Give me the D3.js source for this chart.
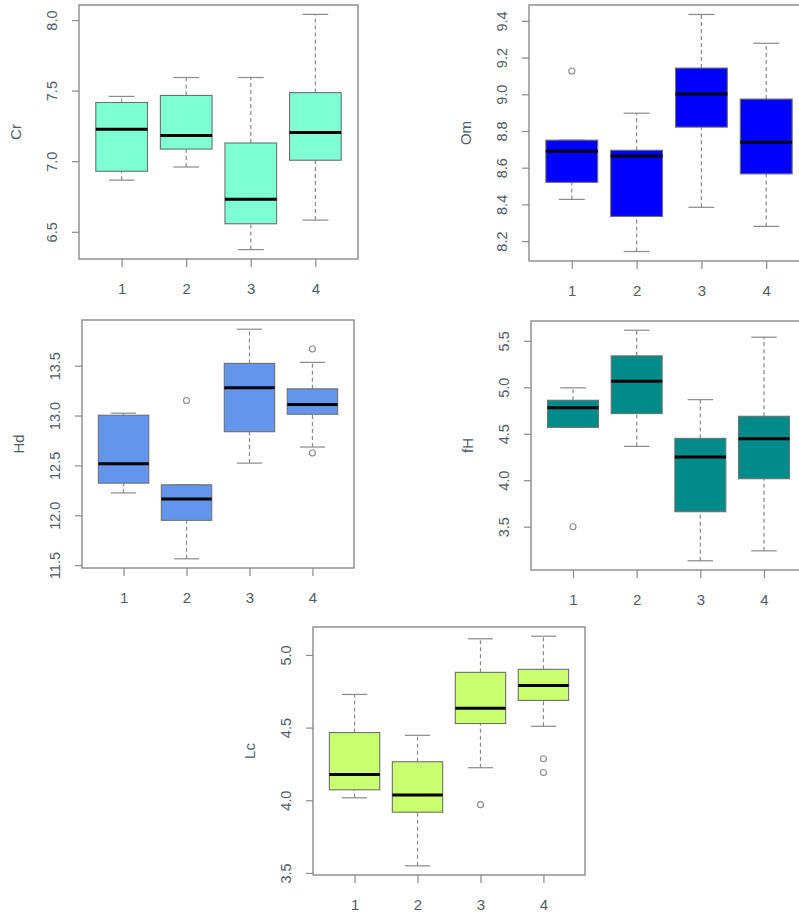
<!DOCTYPE html>
<html>
<head>
<meta charset="utf-8">
<script src="https://cdn.jsdelivr.net/npm/d3@7"></script>
<style>
html,body{margin:0;padding:0;background:#fff;overflow:hidden;}
svg{display:block;}
text{font-family:"Liberation Sans",Arial,sans-serif;}
</style>
</head>
<body>
<svg id="chart" width="799" height="912"></svg>
<script>
// ---------- data ----------
const groups = ["1", "2", "3", "4"];

// each row: [lower whisker, Q1, median, Q3, upper whisker]
const crStats = [[6.866, 6.929, 7.226, 7.416, 7.459],
                 [6.959, 7.086, 7.183, 7.466, 7.593],
                 [6.374, 6.557, 6.731, 7.129, 7.593],
                 [6.583, 7.007, 7.204, 7.486, 8.040]];
const crOutliers = [[], [], [], []];
const crTicks = [6.5, 7.0, 7.5, 8.0];

const omStats = [[8.427, 8.520, 8.690, 8.750, 8.750],
                 [8.143, 8.334, 8.664, 8.695, 8.897],
                 [8.384, 8.821, 9.001, 9.143, 9.435],
                 [8.280, 8.566, 8.739, 8.974, 9.278]];
const omOutliers = [[9.127], [], [], []];
const omTicks = [8.2, 8.4, 8.6, 8.8, 9.0, 9.2, 9.4];

const hdStats = [[12.224, 12.322, 12.516, 13.003, 13.024],
                 [11.563, 11.949, 12.164, 12.305, 12.305],
                 [12.523, 12.838, 13.278, 13.523, 13.866],
                 [12.684, 13.013, 13.110, 13.268, 13.533]];
const hdOutliers = [[], [13.151], [], [13.668, 12.624]];
const hdTicks = [11.5, 12.0, 12.5, 13.0, 13.5];

const fhStats = [[4.569, 4.569, 4.781, 4.860, 4.994],
                 [4.364, 4.717, 5.065, 5.338, 5.614],
                 [3.133, 3.661, 4.250, 4.450, 4.867],
                 [3.240, 4.016, 4.447, 4.688, 5.539]];
const fhOutliers = [[3.499], [], [], []];
const fhTicks = [3.5, 4.0, 4.5, 5.0, 5.5];

const lcStats = [[4.017, 4.072, 4.178, 4.466, 4.728],
                 [3.549, 3.918, 4.037, 4.265, 4.447],
                 [4.224, 4.528, 4.634, 4.880, 5.111],
                 [4.509, 4.687, 4.789, 4.901, 5.129]];
const lcOutliers = [[], [], [3.970], [4.286, 4.191]];
const lcTicks = [3.5, 4.0, 4.5, 5.0];

// ---------- panels (layout) ----------
const panels = [
  {name: "Cr", stats: crStats, out: crOutliers, ticks: crTicks, fill: "#7FFFD4", l: 79,  r: 358, t: 5,   b: 259},
  {name: "Om", stats: omStats, out: omOutliers, ticks: omTicks, fill: "#0000FF", l: 529, r: 809, t: 5,   b: 261},
  {name: "Hd", stats: hdStats, out: hdOutliers, ticks: hdTicks, fill: "#6495ED", l: 82,  r: 354, t: 320, b: 568},
  {name: "fH", stats: fhStats, out: fhOutliers, ticks: fhTicks, fill: "#008B8B", l: 531, r: 806, t: 321, b: 570},
  {name: "Lc", stats: lcStats, out: lcOutliers, ticks: lcTicks, fill: "#CAFF70", l: 313, r: 585, t: 627, b: 875}
];

const svg = d3.select("#chart");
const axisCol = "#8a8a8a";
const textCol = "#525c68";
const boxCol = "#6f6f6f";

panels.forEach(p => {
  const g = svg.append("g");
  const allVals = p.stats.flat().concat(p.out.flat());
  const lo = d3.min(allVals), hi = d3.max(allVals);
  const pad = (hi - lo) * 0.04;
  const y = d3.scaleLinear().domain([lo - pad, hi + pad]).range([p.b, p.t]);
  const x = d3.scaleLinear().domain([0.34, 4.66]).range([p.l, p.r]);
  const bw = x(1.4) - x(1);   // half box width (0.4 units)
  const cw = x(1.2) - x(1);   // half cap width

  // plot frame
  g.append("rect").attr("x", p.l).attr("y", p.t).attr("width", p.r - p.l).attr("height", p.b - p.t)
    .attr("fill", "none").attr("stroke", axisCol).attr("stroke-width", 1.4);

  // y axis
  const ya = d3.axisLeft(y).tickValues(p.ticks).tickSize(7).tickFormat(d3.format(".1f"));
  const yg = g.append("g").attr("transform", `translate(${p.l},0)`).call(ya);
  yg.select(".domain").remove();
  yg.selectAll(".tick line").attr("stroke", axisCol).attr("stroke-width", 1.2);
  yg.selectAll(".tick text").attr("fill", textCol).attr("font-size", 14.5)
    .attr("x", 0).attr("dy", null)
    .attr("transform", "translate(-27,0) rotate(-90)")
    .attr("text-anchor", "middle").attr("dominant-baseline", "central");

  // x axis
  const xa = d3.axisBottom(x).tickValues([1, 2, 3, 4]).tickSize(8).tickFormat((d, i) => groups[i]);
  const xg = g.append("g").attr("transform", `translate(0,${p.b})`).call(xa);
  xg.select(".domain").remove();
  xg.selectAll(".tick line").attr("stroke", axisCol).attr("stroke-width", 1.2);
  xg.selectAll(".tick text").attr("fill", textCol).attr("font-size", 15)
    .attr("y", 29).attr("dy", null).attr("dominant-baseline", "central");

  // axis title
  g.append("text").attr("transform", `translate(${p.l - 64},${(p.t + p.b) / 2}) rotate(-90)`)
    .attr("text-anchor", "middle").attr("dominant-baseline", "central")
    .attr("font-size", 15).attr("fill", textCol).text(p.name);

  // boxes
  p.stats.forEach((s, i) => {
    const cx = x(i + 1);
    const [wl, q1, md, q3, wh] = s;
    // whiskers
    [[q3, wh], [wl, q1]].forEach(([a, b]) => {
      if (Math.abs(y(a) - y(b)) > 0.5) {
        g.append("line").attr("x1", cx).attr("x2", cx).attr("y1", y(a)).attr("y2", y(b))
          .attr("stroke", axisCol).attr("stroke-width", 1.2).attr("stroke-dasharray", "4,3");
      }
    });
    [wl, wh].forEach(v => {
      g.append("line").attr("x1", cx - cw).attr("x2", cx + cw).attr("y1", y(v)).attr("y2", y(v))
        .attr("stroke", axisCol).attr("stroke-width", 1.2);
    });
    g.append("rect").attr("x", cx - bw).attr("y", y(q3)).attr("width", 2 * bw).attr("height", y(q1) - y(q3))
      .attr("fill", p.fill).attr("stroke", boxCol).attr("stroke-width", 1.1);
    g.append("line").attr("x1", cx - bw).attr("x2", cx + bw).attr("y1", y(md)).attr("y2", y(md))
      .attr("stroke", "#000").attr("stroke-width", 3);
    p.out[i].forEach(v => {
      g.append("circle").attr("cx", cx).attr("cy", y(v)).attr("r", 3)
        .attr("fill", "none").attr("stroke", axisCol).attr("stroke-width", 1.1);
    });
  });
});
</script>
</body>
</html>
